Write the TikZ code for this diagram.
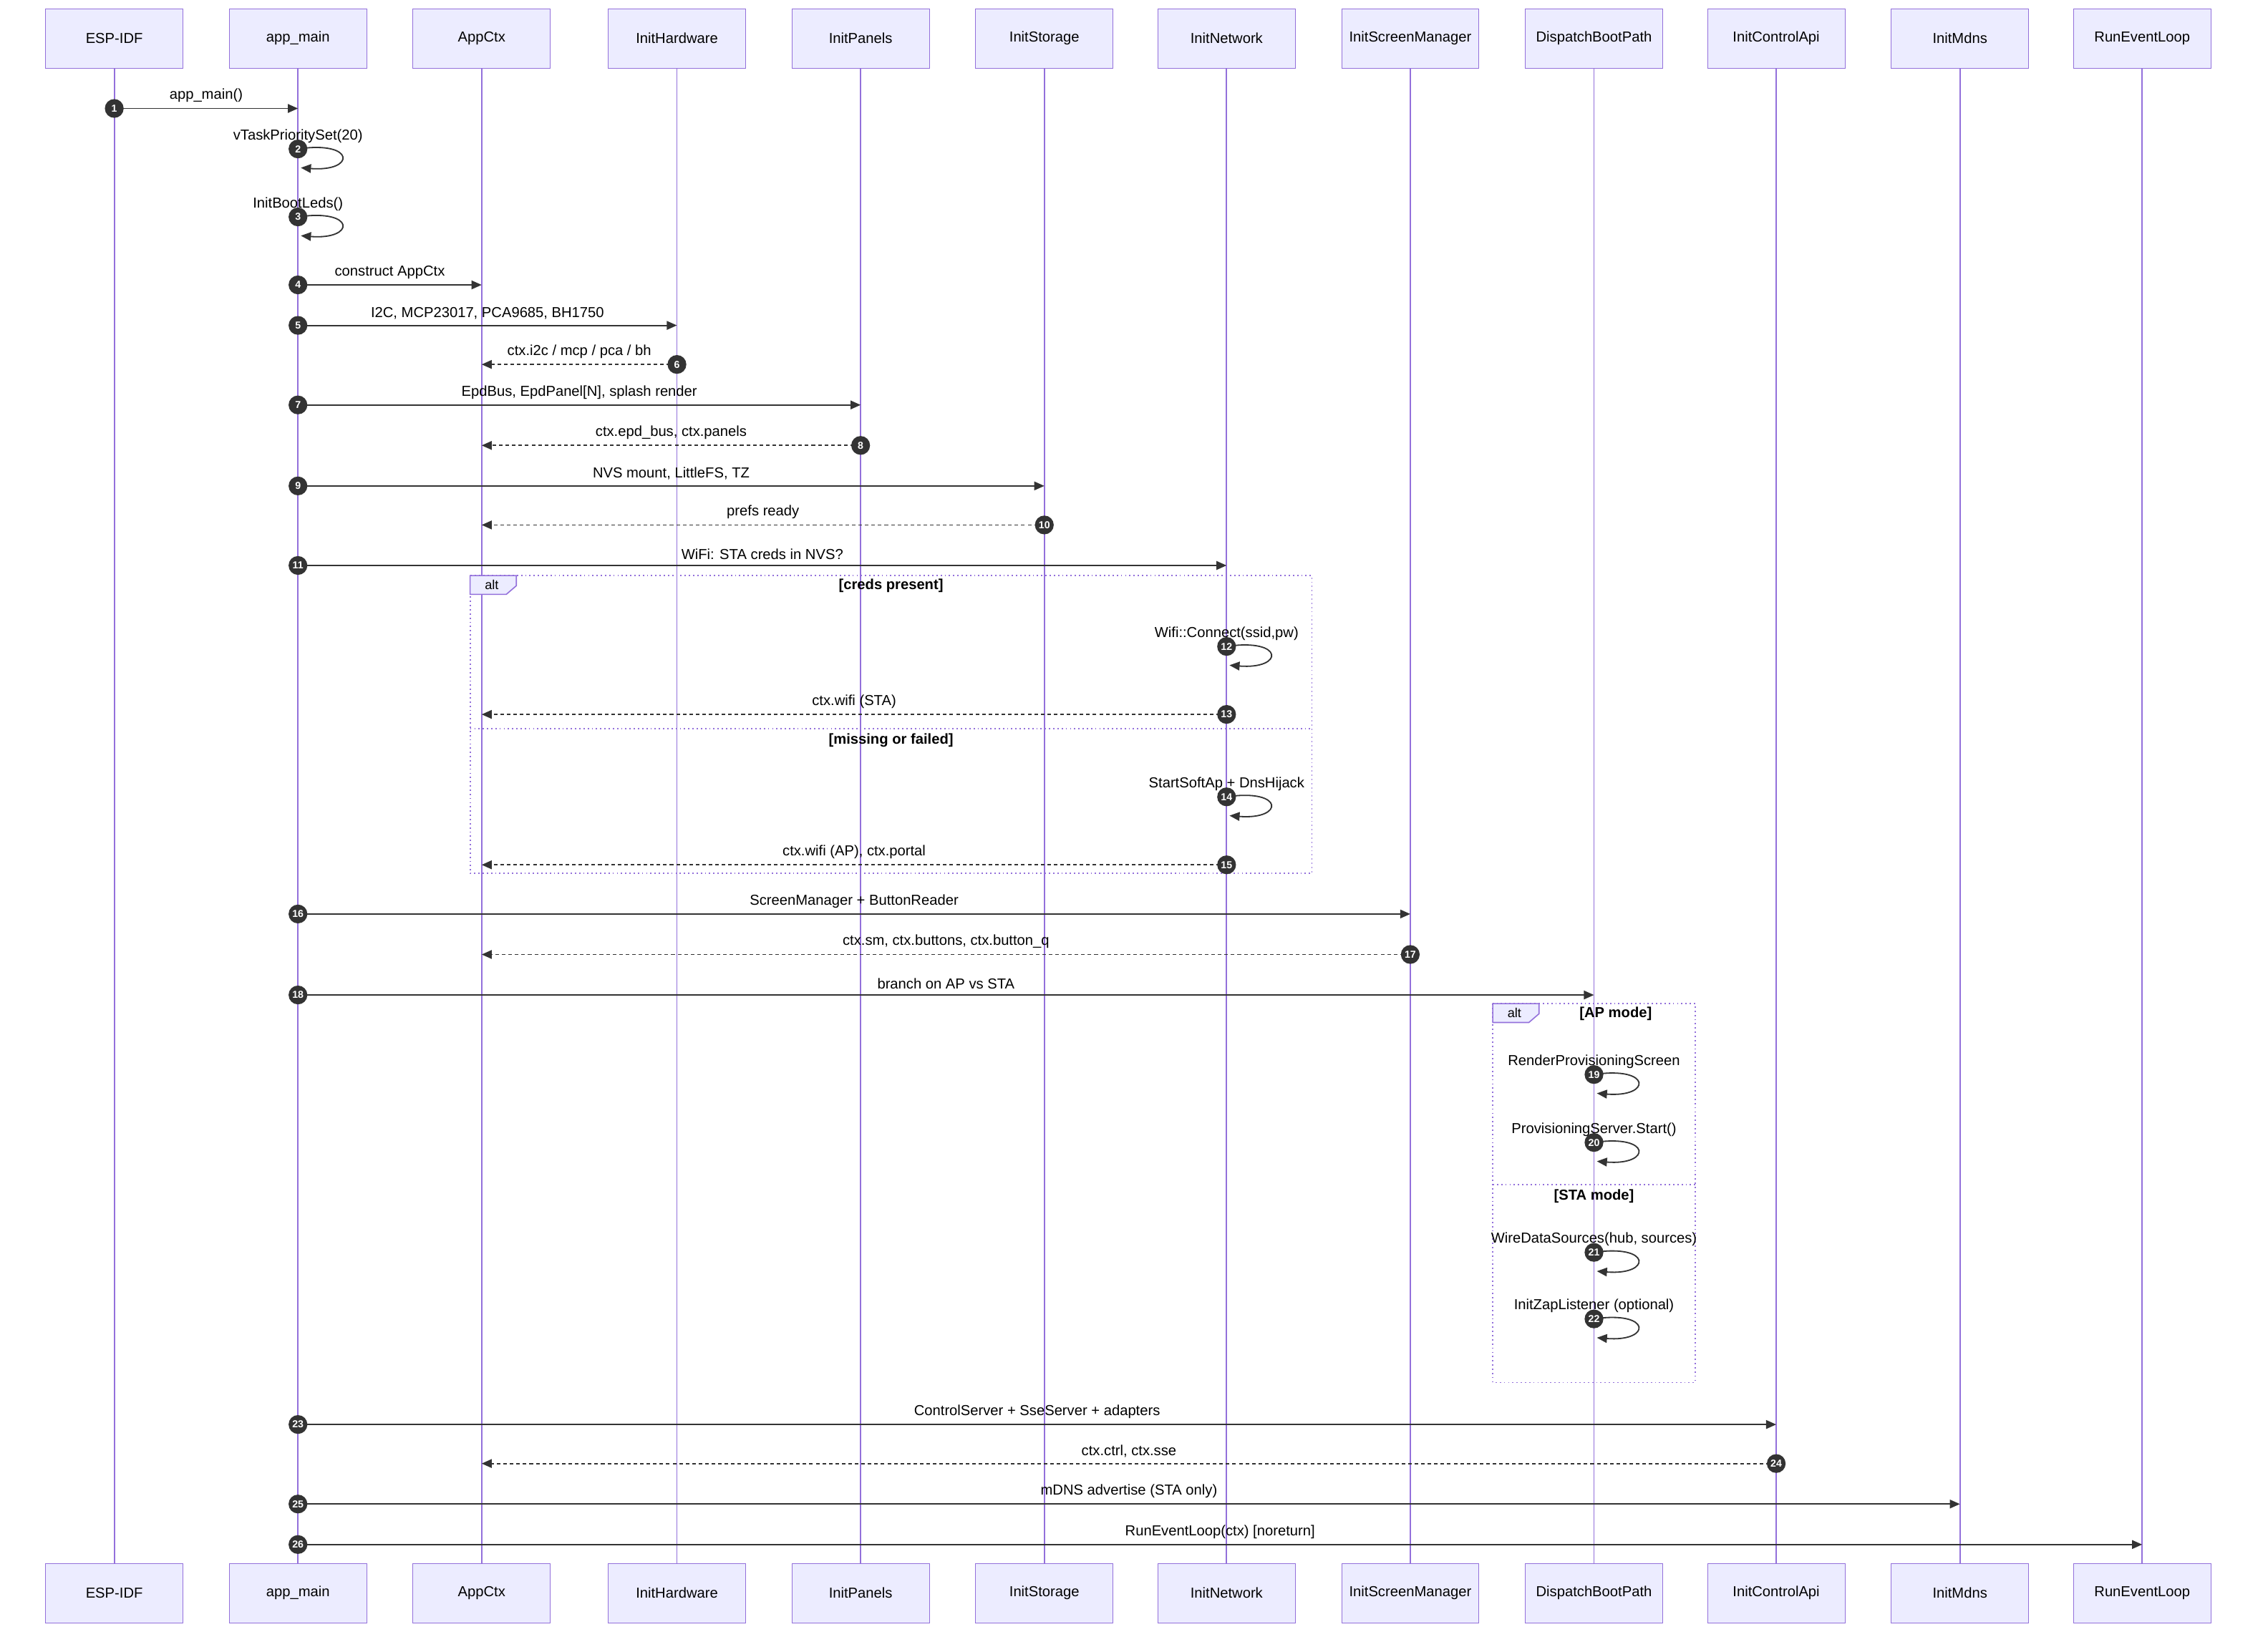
\documentclass[tikz,border=0pt]{standalone}
\usepackage{fontspec}
\setmainfont{Liberation Sans}
\usetikzlibrary{positioning,arrows.meta,calc}

\definecolor{actfill}{HTML}{ECECFF}
\definecolor{actline}{HTML}{9370DB}
\definecolor{msgline}{HTML}{333333}

\tikzset{
  actor/.style={draw=actline, fill=actfill, minimum width=95pt, minimum height=41pt, font=\fontsize{10}{12}\selectfont},
  lifeline/.style={draw=actline, line width=0.9pt},
  msgarrow/.style={draw=msgline, line width=0.9pt, -{Triangle[length=7pt,width=6pt]}},
  retarrow/.style={msgarrow, dash pattern=on 2.5pt off 2pt},
  msglabel/.style={font=\fontsize{10}{12}\selectfont, inner sep=1pt},
  numdot/.style={circle, fill=msgline, text=white, inner sep=0pt, minimum size=13pt, font=\fontsize{7}{8}\selectfont\bfseries},
  altframe/.style={draw=actline, dotted, line width=0.9pt},
  guard/.style={font=\fontsize{10}{12}\selectfont\bfseries, inner sep=1pt}
}

% message from #2 to #3 at height #4
\newcommand{\msg}[5]{%
  \draw[msgarrow] (#2 |- 0,#4) -- (#3 |- 0,#4);
  \path (#2 |- 0,#4) -- node[msglabel, pos=0.5, above=3pt] {#5} (#3 |- 0,#4);
  \node[numdot] at (#2 |- 0,#4) {#1};}
\newcommand{\ret}[5]{%
  \draw[retarrow] (#2 |- 0,#4) -- (#3 |- 0,#4);
  \path (#2 |- 0,#4) -- node[msglabel, pos=0.5, above=3pt] {#5} (#3 |- 0,#4);
  \node[numdot] at (#2 |- 0,#4) {#1};}
\newcommand{\selfmsg}[4]{%
  \draw[msgarrow] ($(#2 |- 0,#3)$) .. controls ($(#2 |- 0,#3)+(40,-6)$) and ($(#2 |- 0,#3)+(40,16)$) .. ($(#2 |- 0,#3)+(2,13)$);
  \node[msglabel] at ($(#2 |- 0,#3)+(0,-9)$) {#4};
  \node[numdot] at (#2 |- 0,#3) {#1};}

\begin{document}
\begin{tikzpicture}[x=1pt, y=-1pt]
\useasboundingbox (0,0) rectangle (1568,1135);

% participants, top and bottom
\foreach \name/\txt/\xx in {esp/ESP-IDF/79, main/app\_main/206, ctx/AppCtx/333,
    hw/InitHardware/468, pan/InitPanels/595, sto/InitStorage/722,
    net/InitNetwork/848, scr/InitScreenManager/975, dbp/DispatchBootPath/1102,
    api/InitControlApi/1228, mdns/InitMdns/1355, loop/RunEventLoop/1481} {
  \node[actor] (\name) at (\xx,26.5) {\txt};
  \node[actor] (\name b) at (\xx,1101.5) {\txt};
  \draw[lifeline] (\name.south) -- (\name b.north);
}

\msg{1}{esp}{main}{75}{app\_main()}
\selfmsg{2}{main}{103}{vTaskPrioritySet(20)}
\selfmsg{3}{main}{150}{InitBootLeds()}
\msg{4}{main}{ctx}{197}{construct AppCtx}
\msg{5}{main}{hw}{225}{I2C, MCP23017, PCA9685, BH1750}
\ret{6}{hw}{ctx}{252}{ctx.i2c / mcp / pca / bh}
\msg{7}{main}{pan}{280}{EpdBus, EpdPanel[N], splash render}
\ret{8}{pan}{ctx}{308}{ctx.epd\_bus, ctx.panels}
\msg{9}{main}{sto}{336}{NVS mount, LittleFS, TZ}
\ret{10}{sto}{ctx}{363}{prefs ready}
\msg{11}{main}{net}{391}{WiFi: STA creds in NVS?}

% first alt
\draw[altframe] (325,398) rectangle (907,604);
\draw[altframe] (325,504) -- (907,504);
\draw[draw=actline, fill=actfill, line width=0.8pt] (325,398) -- (357,398) -- (357,405) -- (350,411) -- (325,411) -- cycle;
\node[guard, font=\fontsize{9}{10}\selectfont] (alt1) at (340,404.5) {alt};
\node[guard] (g1) at (616,405) {[creds present]};
\node[guard] (g2) at (616,512) {[missing or failed]};
\selfmsg{12}{net}{447}{Wifi::Connect(ssid,pw)}
\ret{13}{net}{ctx}{494}{ctx.wifi (STA)}
\selfmsg{14}{net}{551}{StartSoftAp + DnsHijack}
\ret{15}{net}{ctx}{598}{ctx.wifi (AP), ctx.portal}

\msg{16}{main}{scr}{632}{ScreenManager + ButtonReader}
\ret{17}{scr}{ctx}{660}{ctx.sm, ctx.buttons, ctx.button\_q}
\msg{18}{main}{dbp}{688}{branch on AP vs STA}

% second alt
\draw[altframe] (1032,694) rectangle (1172,956);
\draw[altframe] (1032,819) -- (1172,819);
\draw[draw=actline, fill=actfill, line width=0.8pt] (1032,694) -- (1064,694) -- (1064,701) -- (1057,707) -- (1032,707) -- cycle;
\node[guard, font=\fontsize{9}{10}\selectfont] (alt2) at (1047,700.5) {alt};
\node[guard] (g3) at (1117,701) {[AP mode]};
\node[guard] (g4) at (1102,827) {[STA mode]};
\selfmsg{19}{dbp}{743}{RenderProvisioningScreen}
\selfmsg{20}{dbp}{790}{ProvisioningServer.Start()}
\selfmsg{21}{dbp}{866}{WireDataSources(hub, sources)}
\selfmsg{22}{dbp}{912}{InitZapListener (optional)}

\msg{23}{main}{api}{985}{ControlServer + SseServer + adapters}
\ret{24}{api}{ctx}{1012}{ctx.ctrl, ctx.sse}
\msg{25}{main}{mdns}{1040}{mDNS advertise (STA only)}
\msg{26}{main}{loop}{1068}{RunEventLoop(ctx) [noreturn]}

\end{tikzpicture}
\end{document}
